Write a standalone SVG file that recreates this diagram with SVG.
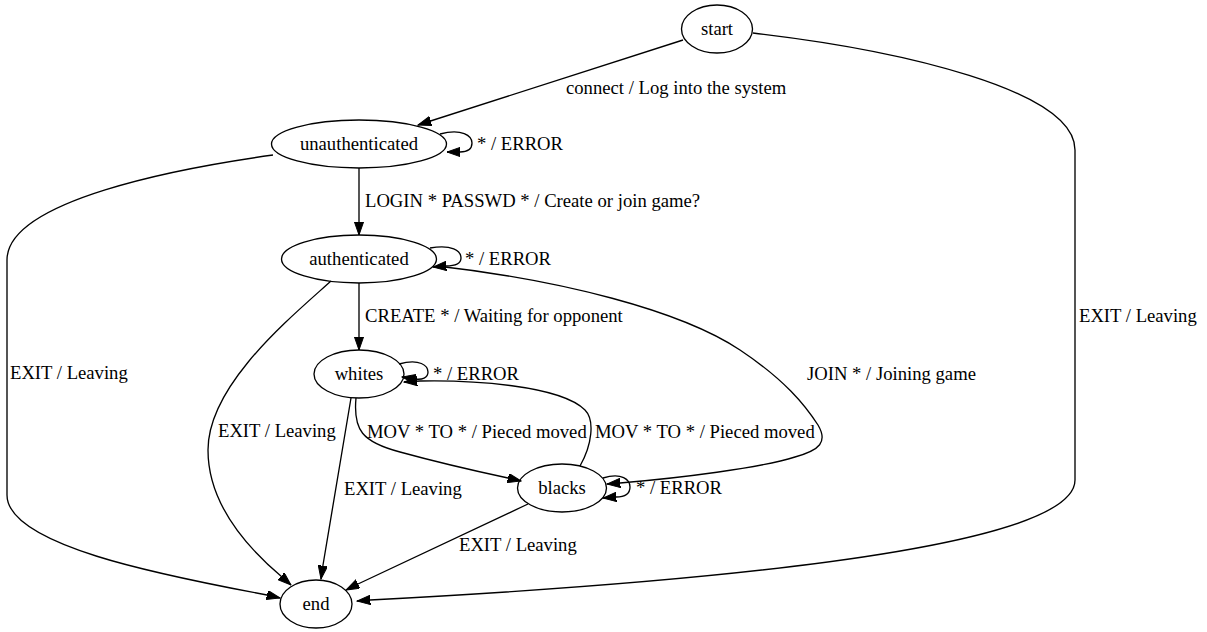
<svg xmlns="http://www.w3.org/2000/svg" width="1207" height="632" viewBox="0 0 1207 632">
<style>
text{font-family:"Liberation Serif","Times New Roman",serif;font-size:18.67px;fill:#000}
.n ellipse{fill:none;stroke:#000;stroke-width:1.33}
.n text{text-anchor:middle}
.e path{fill:none;stroke:#000;stroke-width:1.33;marker-end:url(#ah)}
</style>
<defs>
<marker id="ah" markerUnits="userSpaceOnUse" markerWidth="14" markerHeight="10" refX="13.3" refY="4.67" orient="auto" viewBox="0 0 14 10">
<path d="M0,0 L13.3,4.67 L0,9.33 Z" fill="#000" stroke="#000" stroke-width="1"/>
</marker>
</defs>
<rect width="1207" height="632" fill="#fff"/>
<g class="e" id="edges">
<path d="M683,40 L418,125"/>
<path d="M440,134 C462,128 472,136 472,143 C472,150 466,152 460,152 L447,152"/>
<path d="M359,168 L359,235"/>
<path d="M273,155 C180,168 7,200 7,260 L7,495 C7,545 160,575 267,595 L280,598"/>
<path d="M430,248 C452,244 461,251 461,258 C461,264 455,266 446,266 L433,267"/>
<path d="M359,283 L359,350"/>
<path d="M331,281 C290,318 208,385 208,450 C208,505 250,550 282,577 L291,585"/>
<path d="M437,266 C560,280 680,310 740,350 C785,380 805,405 818,425 C828,442 820,450 795,457 C760,468 680,478 620,483 L607,484"/>
<path d="M399,364 C420,358 428,366 428,372 C428,378 422,380 415,379 L402,377"/>
<path d="M356,398 C353,430 362,442 400,452 C440,463 480,472 508,478 L521,481"/>
<path d="M580,466 C592,445 595,420 585,410 C560,385 470,380 420,381 L404,382"/>
<path d="M351,398 L323,565 L321,579"/>
<path d="M603,478 C622,472 630,480 630,487 C630,494 624,497 616,497 L603,498"/>
<path d="M528,504 L358,584 L346,590"/>
<path d="M753,33 C900,50 1075,90 1075,150 L1075,480 C1075,560 560,590 370,600 L357,601"/>
</g>
<g id="edge-labels">
<text x="566" y="94">connect / Log into the system</text>
<text x="477" y="150">* / ERROR</text>
<text x="365" y="207">LOGIN * PASSWD * / Create or join game?</text>
<text x="465" y="265">* / ERROR</text>
<text x="365" y="322">CREATE * / Waiting for opponent</text>
<text x="10" y="379">EXIT / Leaving</text>
<text x="218" y="437">EXIT / Leaving</text>
<text x="433" y="380">* / ERROR</text>
<text x="807" y="380">JOIN * / Joining game</text>
<text x="367" y="438">MOV * TO * / Pieced moved</text>
<text x="595" y="438">MOV * TO * / Pieced moved</text>
<text x="344" y="495">EXIT / Leaving</text>
<text x="636" y="494">* / ERROR</text>
<text x="459" y="551">EXIT / Leaving</text>
<text x="1079" y="322">EXIT / Leaving</text>
</g>
<g class="n" id="start"><ellipse cx="717" cy="29" rx="35.5" ry="24"/><text x="717" y="35">start</text></g>
<g class="n" id="unauthenticated"><ellipse cx="359" cy="144" rx="87.5" ry="24"/><text x="359" y="150">unauthenticated</text></g>
<g class="n" id="authenticated"><ellipse cx="359" cy="259" rx="77.5" ry="24"/><text x="359" y="265">authenticated</text></g>
<g class="n" id="whites"><ellipse cx="359" cy="374" rx="45" ry="24"/><text x="359" y="380">whites</text></g>
<g class="n" id="blacks"><ellipse cx="562" cy="488" rx="44.5" ry="24"/><text x="562" y="494">blacks</text></g>
<g class="n" id="end"><ellipse cx="316" cy="604" rx="36" ry="24"/><text x="316" y="610">end</text></g>
</svg>
